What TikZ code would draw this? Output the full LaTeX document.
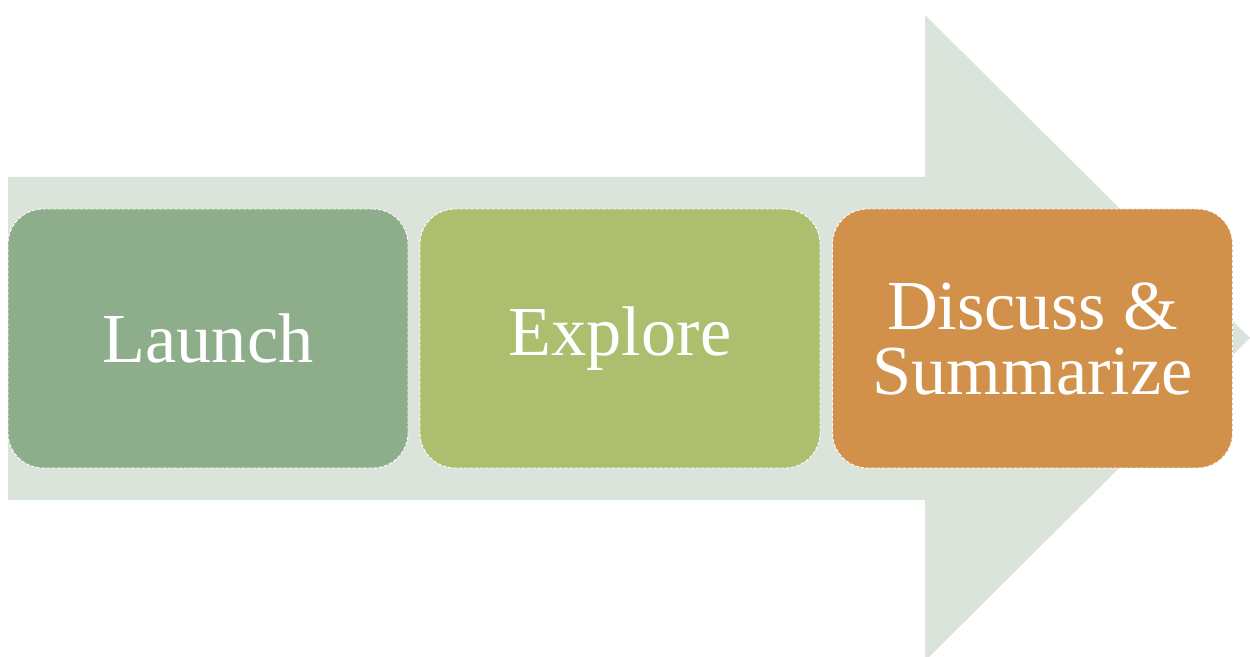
\documentclass[tikz,border=0pt]{standalone}
\usepackage{fontspec}
\setmainfont{Liberation Serif}

\definecolor{shaftgray}{HTML}{DAE4DB}
\definecolor{launchgreen}{HTML}{8EAE8B}
\definecolor{exploregreen}{HTML}{ADBE6F}
\definecolor{discussorange}{HTML}{D1914A}

\begin{document}
\begin{tikzpicture}

\tikzstyle{stage}=[rectangle,rounded corners=0.7cm,draw=white,dash pattern=on 2pt off 1pt,line width=0.5pt,
  minimum width=8cm,minimum height=5.18cm,text=white,align=center,font=\fontsize{40}{37}\selectfont]

\useasboundingbox (0,0) rectangle (25,13.14);

% big block arrow behind the stages
\fill[shaftgray] (0.16,3.14) -- (18.5,3.14) -- (18.5,-0.08) -- (25,6.38)
  -- (18.5,12.84) -- (18.5,9.6) -- (0.16,9.6) -- cycle;

\node[stage,fill=launchgreen]   (launch)  at (4.16,6.37)  {Launch} ;
\node[stage,fill=exploregreen]  (explore) at (12.4,6.37)  {Explore} ;
\node[stage,fill=discussorange] (discuss) at (20.65,6.37) {Discuss \&\\Summarize} ;

\end{tikzpicture}
\end{document}
